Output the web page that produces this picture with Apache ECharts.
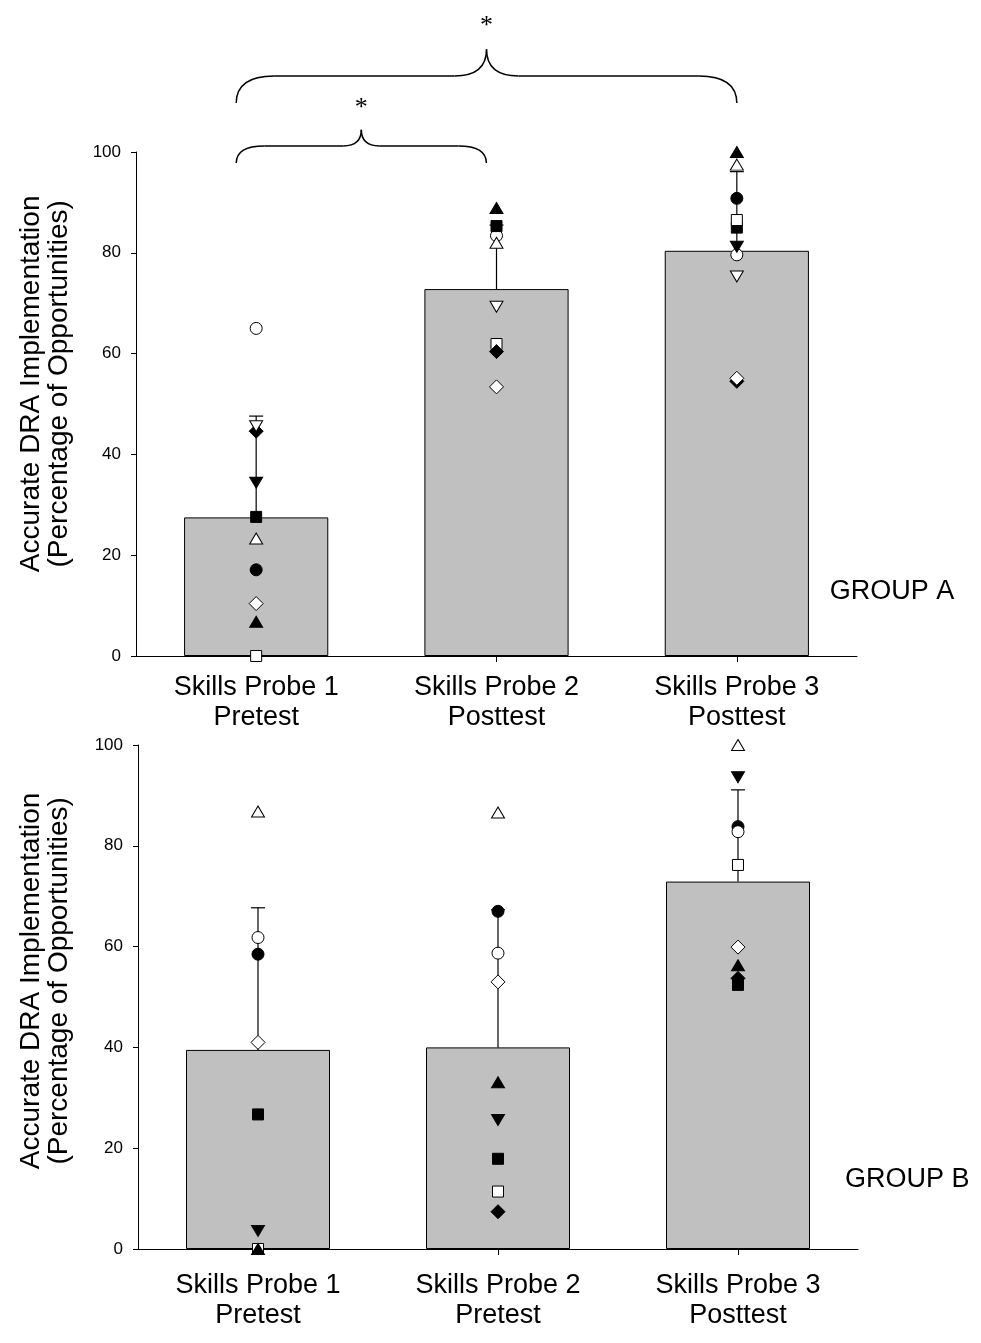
<!DOCTYPE html>
<html>
<head>
<meta charset="utf-8">
<script src="https://cdn.jsdelivr.net/npm/echarts@6/dist/echarts.min.js"></script>
<style>
html,body{margin:0;padding:0;background:#fff;}
#chart{width:981px;height:1343px;}
</style>
</head>
<body>
<div id="chart"></div>
<script>
// ---- data ----
var categoriesA = ['Skills Probe 1\nPretest', 'Skills Probe 2\nPosttest', 'Skills Probe 3\nPosttest'];
var categoriesB = ['Skills Probe 1\nPretest', 'Skills Probe 2\nPretest', 'Skills Probe 3\nPosttest'];
var yTicks = [0, 20, 40, 60, 80, 100];
var yTitle = 'Accurate DRA Implementation\n(Percentage of Opportunities)';

var meansA = [27.5, 72.8, 80.4];
var upperA = [47.6, 85.5, 96.1];
var meansB = [39.5, 40.0, 72.9];
var upperB = [67.7, 67.3, 91.1];

// individual participants, group A (values per probe)
var aFilledCircle   = [17.1, null, 90.8];
var aOpenCircle     = [65.0, 83.4, 79.6];
var aFilledDownTri  = [34.4, null, 81.2];
var aOpenTriangle   = [23.3, 82.0, 97.5];
var aFilledSquare   = [27.6, 85.3, 85.0];
var aOpenSquare     = [0.0, 61.9, 86.5];
var aFilledDiamond  = [44.6, 60.4, 54.5];
var aOpenDiamond    = [10.4, 53.4, 55.1];
var aFilledTriangle = [6.8, 88.9, 100.0];
var aOpenDownTri    = [45.6, 69.3, 75.3];

// group B
var bFilledCircle   = [58.5, 67.0, 83.8];
var bOpenCircle     = [61.8, 58.7, 82.8];
var bFilledDownTri  = [3.6, 25.6, 93.6];
var bOpenTriangle   = [86.8, 86.6, 100.0];
var bFilledSquare   = [26.7, 17.9, 52.4];
var bOpenSquare     = [0.0, 11.4, 76.2];
var bFilledDiamond  = [null, 7.4, 53.7];
var bOpenDiamond    = [41.0, 53.0, 59.9];
var bFilledTriangle = [0.0, 33.1, 56.3];

var groupLabels = ['GROUP A', 'GROUP B'];
var starLabel = '*';

// ---- chart ----
var FONT = 'Liberation Sans, Arial, sans-serif';
var chart = echarts.init(document.getElementById('chart'), null, {renderer: 'canvas'});

var markerDefs = {
  filledCircle:   {symbol: 'circle',   size: 12, rot: 0,   fill: '#000'},
  openCircle:     {symbol: 'circle',   size: 12, rot: 0,   fill: '#fff'},
  filledDownTri:  {symbol: 'triangle', size: [13, 11], rot: 180, fill: '#000'},
  openTriangle:   {symbol: 'triangle', size: [13, 11], rot: 0,   fill: '#fff'},
  filledSquare:   {symbol: 'rect',     size: 11, rot: 0,   fill: '#000'},
  openSquare:     {symbol: 'rect',     size: 11, rot: 0,   fill: '#fff'},
  filledDiamond:  {symbol: 'diamond',  size: 14, rot: 0,   fill: '#000'},
  openDiamond:    {symbol: 'diamond',  size: 14, rot: 0,   fill: '#fff'},
  filledTriangle: {symbol: 'triangle', size: [13, 11], rot: 0,   fill: '#000'},
  openDownTri:    {symbol: 'triangle', size: [13, 11], rot: 180, fill: '#fff'}
};

function scatter(kind, values, gi) {
  var d = markerDefs[kind];
  var data = [];
  values.forEach(function (v, i) { if (v !== null) data.push([i, v]); });
  return {
    type: 'scatter', xAxisIndex: gi, yAxisIndex: gi,
    symbol: d.symbol, symbolSize: d.size, symbolRotate: d.rot,
    itemStyle: {color: d.fill, borderColor: '#000', borderWidth: 1, opacity: 1},
    emphasis: {disabled: true},
    data: data, z: 5
  };
}

function errBars(means, uppers, gi) {
  return {
    type: 'custom', xAxisIndex: gi, yAxisIndex: gi, z: 4,
    data: means.map(function (m, i) { return [i, m, uppers[i]]; }),
    renderItem: function (params, api) {
      var p0 = api.coord([api.value(0), api.value(1)]);
      var p1 = api.coord([api.value(0), api.value(2)]);
      var st = {stroke: '#000', lineWidth: 1.2};
      return {type: 'group', children: [
        {type: 'line', shape: {x1: p0[0], y1: p0[1], x2: p1[0], y2: p1[1]}, style: st},
        {type: 'line', shape: {x1: p1[0] - 7, y1: p1[1], x2: p1[0] + 7, y2: p1[1]}, style: st}
      ]};
    }
  };
}

function xAxis(cats, gi, margin) {
  return {
    type: 'category', gridIndex: gi, data: cats, boundaryGap: true,
    axisLine: {show: true, lineStyle: {color: '#000', width: 1}},
    axisTick: {show: true, alignWithLabel: true, length: 6, lineStyle: {color: '#000'}},
    axisLabel: {color: '#000', fontSize: 27, fontFamily: FONT, lineHeight: 30, margin: margin, interval: 0},
    splitLine: {show: false}
  };
}
function yAxis(gi) {
  return {
    type: 'value', gridIndex: gi, min: yTicks[0], max: yTicks[yTicks.length - 1], interval: 20,
    axisLine: {show: true, lineStyle: {color: '#000', width: 1}},
    axisTick: {show: true, length: 5, lineStyle: {color: '#000'}},
    axisLabel: {color: '#000', fontSize: 17, fontFamily: FONT, margin: 15},
    splitLine: {show: false}
  };
}

var series = [
  {type: 'bar', xAxisIndex: 0, yAxisIndex: 0, data: meansA, barWidth: '60%',
   itemStyle: {color: '#c0c0c0', borderColor: '#000', borderWidth: 1}, z: 2, emphasis: {disabled: true}},
  {type: 'bar', xAxisIndex: 1, yAxisIndex: 1, data: meansB, barWidth: '60%',
   itemStyle: {color: '#c0c0c0', borderColor: '#000', borderWidth: 1}, z: 2, emphasis: {disabled: true}},
  errBars(meansA, upperA, 0),
  errBars(meansB, upperB, 1),
  scatter('filledCircle', aFilledCircle, 0),
  scatter('openCircle', aOpenCircle, 0),
  scatter('filledDownTri', aFilledDownTri, 0),
  scatter('openTriangle', aOpenTriangle, 0),
  scatter('filledSquare', aFilledSquare, 0),
  scatter('openSquare', aOpenSquare, 0),
  scatter('filledDiamond', aFilledDiamond, 0),
  scatter('openDiamond', aOpenDiamond, 0),
  scatter('filledTriangle', aFilledTriangle, 0),
  scatter('openDownTri', aOpenDownTri, 0),
  scatter('filledCircle', bFilledCircle, 1),
  scatter('openCircle', bOpenCircle, 1),
  scatter('filledDownTri', bFilledDownTri, 1),
  scatter('openTriangle', bOpenTriangle, 1),
  scatter('filledSquare', bFilledSquare, 1),
  scatter('openSquare', bOpenSquare, 1),
  scatter('filledDiamond', bFilledDiamond, 1),
  scatter('openDiamond', bOpenDiamond, 1),
  scatter('filledTriangle', bFilledTriangle, 1)
];

chart.setOption({
  animation: false,
  backgroundColor: '#fff',
  grid: [
    {left: 136, right: 124, top: 152, height: 504},
    {left: 138, right: 123, top: 745, height: 504}
  ],
  xAxis: [xAxis(categoriesA, 0, 17), xAxis(categoriesB, 1, 22)],
  yAxis: [yAxis(0), yAxis(1)],
  series: series
});

// ---- annotations: braces, asterisks, titles, positioned through the axes ----
function px(gi, idx, val) { return chart.convertToPixel({xAxisIndex: gi, yAxisIndex: gi}, [idx, val]); }
function brace(x1, x2, yEnd, yH, yP, r, r2) {
  var xm = (x1 + x2) / 2;
  var st = {stroke: '#000', lineWidth: 1.5, fill: null};
  function q(ax, ay, cx, cy, bx, by) {
    return {type: 'bezierCurve', shape: {x1: ax, y1: ay, cpx1: cx, cpy1: cy, x2: bx, y2: by}, style: st};
  }
  function l(ax, ay, bx, by) {
    return {type: 'line', shape: {x1: ax, y1: ay, x2: bx, y2: by}, style: st};
  }
  return [
    q(x1, yEnd, x1, yH, x1 + r, yH),
    l(x1 + r, yH, xm - r2, yH),
    q(xm - r2, yH, xm, yH, xm, yP),
    q(xm, yP, xm, yH, xm + r2, yH),
    l(xm + r2, yH, x2 - r, yH),
    q(x2 - r, yH, x2, yH, x2, yEnd)
  ];
}
var c1 = px(0, 0, 0)[0], c2 = px(0, 1, 0)[0], c3 = px(0, 2, 0)[0];
var band = c2 - c1;
var bL = c1 - band * 0.083, bS = c2 - band * 0.042, bR = c3;
var ySmall = [px(0, 0, 97.8)[1], px(0, 0, 101.2)[1], px(0, 0, 104.4)[1]];
var yBig = [px(0, 0, 109.7)[1], px(0, 0, 115.1)[1], px(0, 0, 120.4)[1]];
var starSmallY = px(0, 0, 108.6)[1], starBigY = px(0, 0, 125.0)[1];
var gA = px(0, 2, 12.7), gB = px(1, 2, 13.8);
var titleA = px(0, 0, 54.0), titleB = px(1, 0, 53.2);

var graphics = []
  .concat(brace(bL, bS, ySmall[0], ySmall[1], ySmall[2], 28, 18))
  .concat(brace(bL, bR, yBig[0], yBig[1], yBig[2], 38, 32));
var starFont = '26px "Liberation Serif", "Times New Roman", serif';
var labFont = '27px "Liberation Sans", Arial, sans-serif';
var titleFont = '28px "Liberation Sans", Arial, sans-serif';
graphics.push(
  {type: 'text', x: (bL + bS) / 2, y: starSmallY,
   style: {text: starLabel, fill: '#000', font: starFont, textAlign: 'center', textVerticalAlign: 'middle'}},
  {type: 'text', x: (bL + bR) / 2, y: starBigY,
   style: {text: starLabel, fill: '#000', font: starFont, textAlign: 'center', textVerticalAlign: 'middle'}},
  {type: 'text', x: gA[0] + 93, y: gA[1],
   style: {text: groupLabels[0], fill: '#000', font: labFont, textAlign: 'left', textVerticalAlign: 'middle'}},
  {type: 'text', x: gB[0] + 107, y: gB[1],
   style: {text: groupLabels[1], fill: '#000', font: labFont, textAlign: 'left', textVerticalAlign: 'middle'}},
  {type: 'text', x: 45, y: titleA[1], rotation: Math.PI / 2,
   style: {text: yTitle, fill: '#000', font: titleFont, lineHeight: 28, textAlign: 'center', textVerticalAlign: 'middle'}},
  {type: 'text', x: 45, y: titleB[1], rotation: Math.PI / 2,
   style: {text: yTitle, fill: '#000', font: titleFont, lineHeight: 28, textAlign: 'center', textVerticalAlign: 'middle'}}
);
chart.setOption({graphic: graphics});
</script>
</body>
</html>
